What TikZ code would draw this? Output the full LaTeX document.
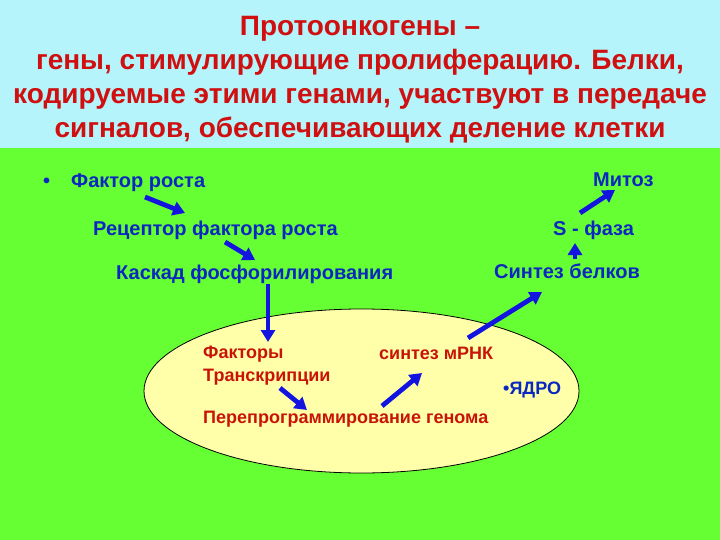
\documentclass[tikz,border=0pt]{standalone}
\usepackage{fontspec}
\setmainfont{Liberation Sans}
\usetikzlibrary{arrows.meta,calc,shapes.geometric}
\definecolor{topbg}{HTML}{B4F4FA}
\definecolor{greenbg}{HTML}{66FF33}
\definecolor{nucfill}{HTML}{FFFFAA}
\definecolor{titlered}{HTML}{D01010}
\definecolor{redtxt}{HTML}{C81408}
\definecolor{bluetxt}{HTML}{0A28C0}
\definecolor{arrblue}{HTML}{1414E0}
\begin{document}
\begin{tikzpicture}[x=1pt,y=-1pt,
  bt/.style={inner sep=0pt,anchor=base west,text=bluetxt,font=\bfseries\fontsize{20}{22}\selectfont},
  rt/.style={inner sep=0pt,anchor=base west,text=redtxt,font=\bfseries\fontsize{18}{20}\selectfont},
  arr/.style={draw=arrblue,line width=4.8pt,-{Triangle[length=12pt,width=14pt]}}]
\useasboundingbox (0,0) rectangle (720,540);
\fill[greenbg] (0,0) rectangle (720,540);
\fill[topbg] (0,0) rectangle (720,148);
\node[inner sep=0pt,align=center,text=titlered,font=\bfseries\fontsize{28}{34}\selectfont] (title) at (360,80)
 {Протоонкогены –\\гены, стимулирующие пролиферацию. Белки,\\кодируемые этими генами, участвуют в передаче\\сигналов, обеспечивающих деление клетки};
\node[ellipse,draw=black,line width=0.8pt,fill=nucfill,minimum width=435pt,minimum height=164pt,inner sep=0pt] (nuc) at (361.5,391) {};
\node[bt] (bul) at (43,188) {•};
\node[bt] (fr) at (71,188) {Фактор роста};
\node[bt] (rec) at (93,236) {Рецептор фактора роста};
\node[bt] (kas) at (116,279) {Каскад фосфорилирования};
\node[bt] (mit) at (593,187) {Митоз};
\node[bt] (sf) at (553,236) {S - фаза};
\node[bt] (sb) at (494,278) {Синтез белков};
\node[rt] (fak) at (203,358) {Факторы};
\node[rt] (trans) at (203,381) {Транскрипции};
\node[rt] (mrna) at (379,359) {синтез мРНК};
\node[bt,font=\bfseries\fontsize{18}{20}\selectfont] (yad) at (503,394) {•ЯДРО};
\node[rt] (per) at (203,423) {Перепрограммирование генома};
\draw[arr] ($(fr.base west)+(74,9)$) -- ($(rec.base west)+(92,-23)$);
\draw[arr] ($(rec.base west)+(132,6)$) -- ($(kas.base west)+(139,-19)$);
\draw[arr] ($(kas.base west)+(152,5)$) -- ($(fak.base west)+(65,-16)$);
\draw[arr] ($(trans.base west)+(77,7)$) -- ($(per.base west)+(104,-13)$);
\draw[arr] ($(per.base west)+(179,-17)$) -- ($(mrna.base west)+(43,14)$);
\draw[arr] ($(mrna.base west)+(89,-21)$) -- ($(sb.base west)+(48,14)$);
\draw[arr] ($(sb.base west)+(81,-19)$) -- ($(sf.base west)+(22,7)$);
\draw[arr] ($(sf.base west)+(27,-23)$) -- ($(mit.base west)+(22,3)$);
\end{tikzpicture}
\end{document}
